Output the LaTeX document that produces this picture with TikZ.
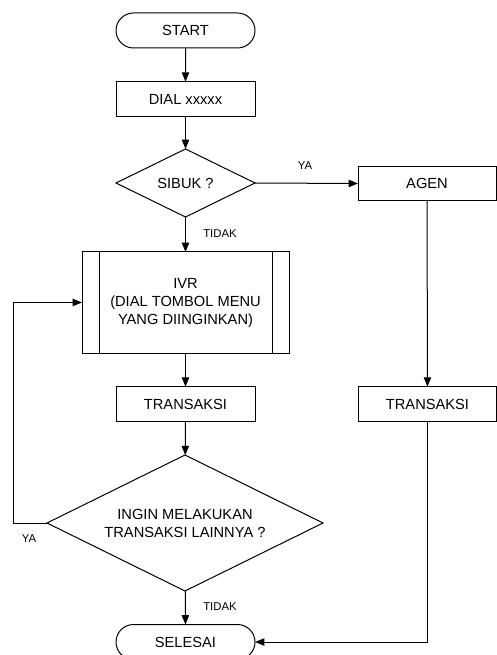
\documentclass[tikz,border=0pt]{standalone}
\usepackage{fontspec}
\setmainfont{Liberation Sans}
\usetikzlibrary{shapes.geometric,shapes.misc,arrows.meta}

\tikzset{every picture/.style={line width=0.75pt}}
\tikzset{
  teks/.style={font=\fontsize{11}{13.5}\selectfont},
  terminal/.style={teks,draw,rounded rectangle,minimum width=104.25pt,minimum height=26.25pt,inner sep=0pt,outer sep=0pt},
  proses/.style={teks,draw,rectangle,minimum width=104.25pt,minimum height=26pt,inner sep=0pt,outer sep=0pt},
  keputusan/.style={teks,draw,diamond,aspect=2,inner sep=0pt,outer sep=0pt,align=center},
  ket/.style={font=\fontsize{8.5}{10}\selectfont,inner sep=0.75pt},
  arus/.style={-{Triangle[length=7pt,width=5.5pt]}}
}

\begin{document}
\begin{tikzpicture}[x=0.75pt,y=0.75pt,yscale=-1,xscale=1]
        \useasboundingbox (0,0) rectangle (496,655);

        \node[terminal] (start) at (185.5,30.5) {START};
        \node[proses] (dial) at (185.5,99) {DIAL xxxxx};
        \node[keputusan,minimum width=104.25pt,minimum height=51pt] (sibuk) at (185.5,183) {SIBUK ?};
        \node[proses,minimum width=103.5pt] (agen) at (427,183.5) {AGEN};
        \node[proses,align=center,minimum width=155.25pt,minimum height=75.75pt] (ivr) at (185.5,302.5) {IVR\\(DIAL TOMBOL MENU\\YANG DIINGINKAN)};
        \draw ([xshift=12.75pt]ivr.north west) -- ([xshift=12.75pt]ivr.south west);
        \draw ([xshift=-12.75pt]ivr.north east) -- ([xshift=-12.75pt]ivr.south east);
        \node[proses] (trans1) at (185.5,404) {TRANSAKSI};
        \node[proses,minimum width=103.5pt] (trans2) at (427.5,404) {TRANSAKSI};
        \node[keputusan,minimum width=207pt,minimum height=102pt] (tanya) at (185,523) {INGIN MELAKUKAN\\TRANSAKSI LAINNYA ?};
        \node[terminal] (selesai) at (185.5,642) {SELESAI};

        \draw[arus] (start) -- (dial);
        \draw[arus] (dial) -- (sibuk);
        \draw[arus] (sibuk) -- (ivr);
        \draw[arus] (sibuk.east) -- (agen.west);
        \draw[arus] (agen) -- (trans2);
        \draw[arus] (ivr) -- (trans1);
        \draw[arus] (trans1) -- (tanya);
        \draw[arus] (tanya.west) -- ++(-34,0) |- (ivr.west);
        \draw[arus] (tanya) -- (selesai);
        \draw[arus] (trans2.south) |- (selesai.east);

        \node[ket] (ya1) at (305,166) {YA};
        \node[ket] (tidak1) at (220,234) {TIDAK};
        \node[ket] (ya2) at (29,539) {YA};
        \node[ket] (tidak2) at (220,607) {TIDAK};
    \end{tikzpicture}
\end{document}
